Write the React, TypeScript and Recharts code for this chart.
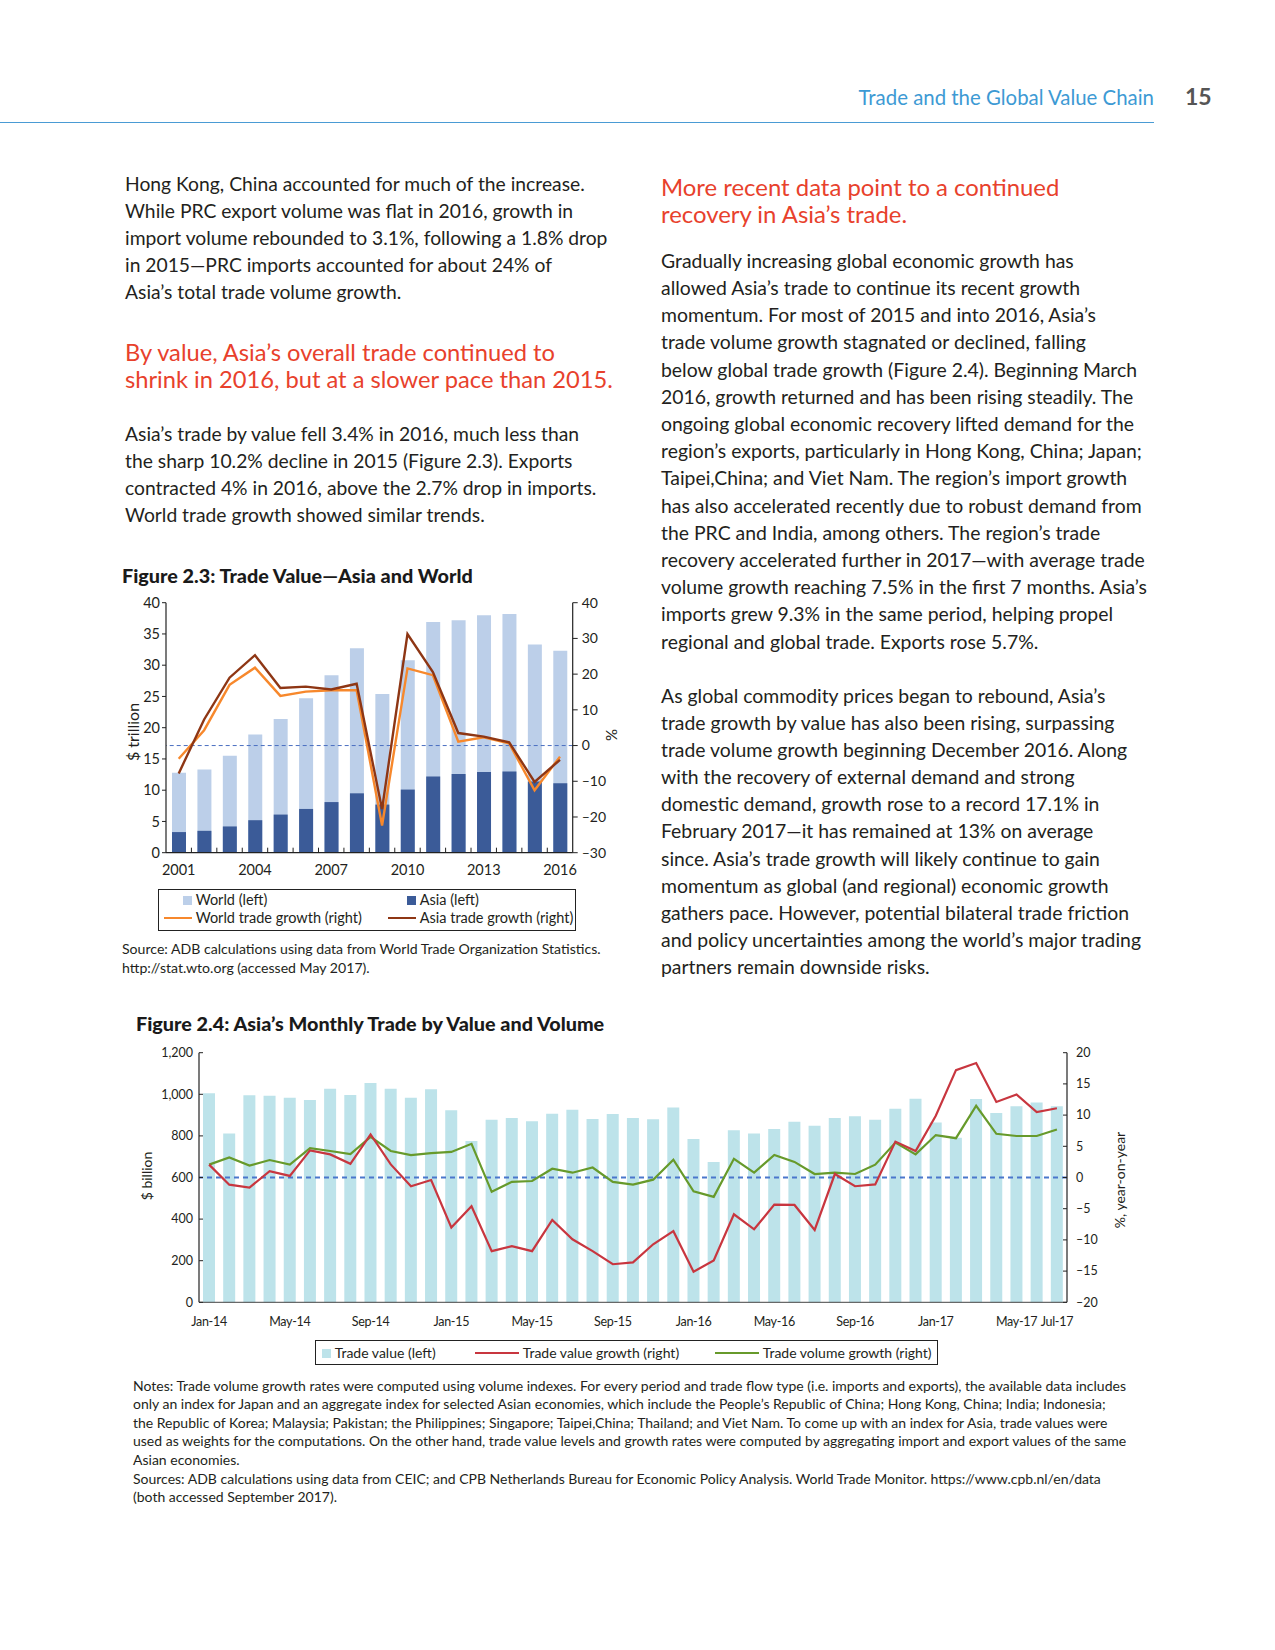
import React from 'react';
import { ComposedChart, Bar, Line, XAxis, YAxis, ReferenceLine } from 'recharts';

// ---------- Figure 2.3 data ----------
const years = ['2001', '2002', '2003', '2004', '2005', '2006', '2007', '2008', '2009', '2010', '2011', '2012', '2013', '2014', '2015', '2016'];
const yearLabels = ['2001', '2004', '2007', '2010', '2013', '2016'];
const worldValue = [12.8, 13.3, 15.5, 18.9, 21.4, 24.7, 28.4, 32.7, 25.4, 30.8, 36.9, 37.2, 38.0, 38.2, 33.3, 32.3];
const asiaValue = [3.3, 3.5, 4.2, 5.2, 6.1, 7.0, 8.1, 9.5, 7.7, 10.1, 12.2, 12.6, 12.9, 13.0, 11.4, 11.1];
const worldGrowth = [-3.7, 4.3, 17.0, 21.8, 13.9, 15.1, 15.5, 15.5, -22.4, 21.6, 19.7, 1.1, 2.3, 0.6, -12.5, -3.1];
const asiaGrowth = [-7.8, 7.3, 19.0, 25.3, 16.1, 16.5, 15.7, 17.3, -17.8, 31.2, 20.6, 3.5, 2.5, 0.9, -10.2, -4.0];
const leftTicks23 = [0, 5, 10, 15, 20, 25, 30, 35, 40];
const rightTicks23 = [-30, -20, -10, 0, 10, 20, 30, 40];

// ---------- Figure 2.4 data ----------
const months = [
  'Jan-14', 'Feb-14', 'Mar-14', 'Apr-14', 'May-14', 'Jun-14', 'Jul-14', 'Aug-14', 'Sep-14', 'Oct-14', 'Nov-14', 'Dec-14',
  'Jan-15', 'Feb-15', 'Mar-15', 'Apr-15', 'May-15', 'Jun-15', 'Jul-15', 'Aug-15', 'Sep-15', 'Oct-15', 'Nov-15', 'Dec-15',
  'Jan-16', 'Feb-16', 'Mar-16', 'Apr-16', 'May-16', 'Jun-16', 'Jul-16', 'Aug-16', 'Sep-16', 'Oct-16', 'Nov-16', 'Dec-16',
  'Jan-17', 'Feb-17', 'Mar-17', 'Apr-17', 'May-17', 'Jun-17', 'Jul-17',
];
const monthLabels = ['Jan-14', 'May-14', 'Sep-14', 'Jan-15', 'May-15', 'Sep-15', 'Jan-16', 'May-16', 'Sep-16', 'Jan-17', 'May-17', 'Jul-17'];
const tradeValue = [
  1005, 812, 995, 993, 984, 973, 1027, 997, 1054, 1027, 984, 1024,
  923, 775, 878, 886, 870, 907, 926, 881, 905, 886, 880, 937,
  785, 675, 827, 811, 833, 868, 849, 886, 894, 878, 931, 979,
  864, 791, 977, 910, 942, 960, 942,
];
const valueGrowth = [
  2.06, -1.15, -1.6, 1.0, 0.25, 4.35, 3.7, 2.2, 6.9, 2.1, -1.4, -0.4,
  -8.0, -4.6, -11.8, -11.0, -11.8, -6.8, -9.9, -11.8, -13.9, -13.6, -10.7, -8.6,
  -15.1, -13.3, -5.9, -8.3, -4.35, -4.4, -8.4, 0.56, -1.4, -1.1, 5.75, 4.25,
  9.9, 17.2, 18.35, 12.1, 13.3, 10.5, 11.1,
];
const volumeGrowth = [
  2.06, 3.2, 1.9, 2.8, 2.06, 4.7, 4.25, 3.77, 6.5, 4.25, 3.6, 3.9,
  4.1, 5.4, -2.3, -0.7, -0.56, 1.4, 0.77, 1.6, -0.7, -1.15, -0.35, 2.85,
  -2.2, -3.1, 3.0, 0.77, 3.6, 2.5, 0.56, 0.77, 0.56, 2.05, 5.6, 3.7,
  6.8, 6.3, 11.5, 7.0, 6.65, 6.65, 7.7,
];
const leftTicks24 = [0, 200, 400, 600, 800, 1000, 1200];
const rightTicks24 = [-20, -15, -10, -5, 0, 5, 10, 15, 20];

// ---------- text ----------
const leftPara1 = [
  'Hong Kong, China accounted for much of the increase.',
  'While PRC export volume was flat in 2016, growth in',
  'import volume rebounded to 3.1%, following a 1.8% drop',
  'in 2015\u2014PRC imports accounted for about 24% of',
  'Asia\u2019s total trade volume growth.',
];
const leftHeading = ['By value, Asia\u2019s overall trade continued to', 'shrink in 2016, but at a slower pace than 2015.'];
const leftPara2 = [
  'Asia\u2019s trade by value fell 3.4% in 2016, much less than',
  'the sharp 10.2% decline in 2015 (Figure 2.3). Exports',
  'contracted 4% in 2016, above the 2.7% drop in imports.',
  'World trade growth showed similar trends.',
];
const rightHeading = ['More recent data point to a continued', 'recovery in Asia\u2019s trade.'];
const rightPara1 = [
  'Gradually increasing global economic growth has',
  'allowed Asia\u2019s trade to continue its recent growth',
  'momentum. For most of 2015 and into 2016, Asia\u2019s',
  'trade volume growth stagnated or declined, falling',
  'below global trade growth (Figure 2.4). Beginning March',
  '2016, growth returned and has been rising steadily. The',
  'ongoing global economic recovery lifted demand for the',
  'region\u2019s exports, particularly in Hong Kong, China; Japan;',
  'Taipei,China; and Viet Nam. The region\u2019s import growth',
  'has also accelerated recently due to robust demand from',
  'the PRC and India, among others. The region\u2019s trade',
  'recovery accelerated further in 2017\u2014with average trade',
  'volume growth reaching 7.5% in the first 7 months. Asia\u2019s',
  'imports grew 9.3% in the same period, helping propel',
  'regional and global trade. Exports rose 5.7%.',
];
const rightPara2 = [
  'As global commodity prices began to rebound, Asia\u2019s',
  'trade growth by value has also been rising, surpassing',
  'trade volume growth beginning December 2016. Along',
  'with the recovery of external demand and strong',
  'domestic demand, growth rose to a record 17.1% in',
  'February 2017\u2014it has remained at 13% on average',
  'since. Asia\u2019s trade growth will likely continue to gain',
  'momentum as global (and regional) economic growth',
  'gathers pace. However, potential bilateral trade friction',
  'and policy uncertainties among the world\u2019s major trading',
  'partners remain downside risks.',
];
const source23 = [
  'Source: ADB calculations using data from World Trade Organization Statistics.',
  'http://stat.wto.org (accessed May 2017).',
];
const notes24 = [
  'Notes: Trade volume growth rates were computed using volume indexes. For every period and trade flow type (i.e. imports and exports), the available data includes',
  'only an index for Japan and an aggregate index for selected Asian economies, which include the People\u2019s Republic of China; Hong Kong, China; India; Indonesia;',
  'the Republic of Korea; Malaysia; Pakistan; the Philippines; Singapore; Taipei,China; Thailand; and Viet Nam. To come up with an index for Asia, trade values were',
  'used as weights for the computations. On the other hand, trade value levels and growth rates were computed by aggregating import and export values of the same',
  'Asian economies.',
  'Sources: ADB calculations using data from CEIC; and CPB Netherlands Bureau for Economic Policy Analysis. World Trade Monitor. https://www.cpb.nl/en/data',
  '(both accessed September 2017).',
];

const data23 = years.map((y, i) => ({
  year: y,
  world: worldValue[i],
  asia: asiaValue[i],
  worldGrowth: worldGrowth[i],
  asiaGrowth: asiaGrowth[i],
}));
const data24 = months.map((m, i) => ({
  month: m,
  value: tradeValue[i],
  valueGrowth: valueGrowth[i],
  volumeGrowth: volumeGrowth[i],
}));

const FONT = 'Lato, "Open Sans", sans-serif';
const TEXT = '#231f20';
const RED = '#e8412c';

const fmtNeg = (v: number) => (v < 0 ? '\u2013' + Math.abs(v) : String(v));
const fmtThousands = (v: number) => v.toLocaleString('en-US');

type LinesProps = { x: number; top: number; lh: number; size: number; lines: string[]; color?: string; weight?: number };
const Lines = ({ x, top, lh, size, lines, color = TEXT, weight = 400 }: LinesProps) => (
  <div style={{ position: 'absolute', left: x, top, fontSize: size, lineHeight: lh + 'px', color, fontWeight: weight, whiteSpace: 'nowrap' }}>
    {lines.map((l, i) => (
      <div key={i}>{l}</div>
    ))}
  </div>
);

// ----- tick renderers -----
const BAND23 = 406.7 / years.length;
const YearTick = (props: any) => {
  const { x, y, payload, index } = props;
  const show = yearLabels.includes(payload.value);
  return (
    <g>
      {index < years.length - 1 && (
        <line x1={x + BAND23 / 2} x2={x + BAND23 / 2} y1={y} y2={y - 5} stroke="#222" strokeWidth={1} />
      )}
      {show && (
        <text x={x} y={y + 17} dy="0.35em" textAnchor="middle" fontSize={14.5} fill={TEXT} fontFamily={FONT}>
          {payload.value}
        </text>
      )}
    </g>
  );
};
const Left23Tick = (props: any) => {
  const { x, y, payload } = props;
  return (
    <g>
      <line x1={x - 4} x2={x} y1={y} y2={y} stroke="#222" />
      <text x={x - 6} y={y} dy="0.35em" textAnchor="end" fontSize={14.5} fill={TEXT} fontFamily={FONT}>
        {payload.value}
      </text>
    </g>
  );
};
const Right23Tick = (props: any) => {
  const { x, y, payload } = props;
  return (
    <g>
      <line x1={x} x2={x + 5} y1={y} y2={y} stroke="#222" />
      <text x={x + 9} y={y} dy="0.35em" textAnchor="start" fontSize={14} fill={TEXT} fontFamily={FONT}>
        {fmtNeg(payload.value)}
      </text>
    </g>
  );
};
const MonthTick = (props: any) => {
  const { x, y, payload } = props;
  if (!monthLabels.includes(payload.value)) return <g />;
  return (
    <text x={x} y={y + 19} dy="0.35em" textAnchor="middle" fontSize={12.5} letterSpacing={-0.3} fill={TEXT} fontFamily={FONT}>
      {payload.value}
    </text>
  );
};
const Left24Tick = (props: any) => {
  const { x, y, payload } = props;
  return (
    <g>
      <line x1={x} x2={x + 4} y1={y} y2={y} stroke="#222" />
      <text x={x - 6} y={y} dy="0.35em" textAnchor="end" fontSize={12.5} fill={TEXT} fontFamily={FONT}>
        {fmtThousands(payload.value)}
      </text>
    </g>
  );
};
const Right24Tick = (props: any) => {
  const { x, y, payload } = props;
  return (
    <g>
      <line x1={x - 4} x2={x} y1={y} y2={y} stroke="#222" />
      <text x={x + 9} y={y} dy="0.35em" textAnchor="start" fontSize={12.5} fill={TEXT} fontFamily={FONT}>
        {fmtNeg(payload.value)}
      </text>
    </g>
  );
};

const C23 = { world: '#bccfe9', asia: '#3b5b98', worldG: '#f7882c', asiaG: '#8e3614' };
const C24 = { bar: '#bde3ea', value: '#c8363f', volume: '#679a2b', dash: '#4a77cc' };

const Swatch = ({ color }: { color: string }) => (
  <span style={{ display: 'inline-block', width: 9, height: 9, background: color, marginRight: 4, verticalAlign: 'middle', position: 'relative', top: -1 }} />
);
const LineSw = ({ color, w }: { color: string; w: number }) => (
  <span style={{ display: 'inline-block', width: w, height: 2, background: color, marginRight: 4, verticalAlign: 'middle', position: 'relative', top: -1 }} />
);

export default function App() {
  return (
    <div style={{ position: 'absolute', left: 0, top: 0, width: 1275, height: 1650, background: '#fff', fontFamily: FONT, color: TEXT }}>
      {/* header */}
      <div style={{ position: 'absolute', left: 700, width: 454, top: 84, textAlign: 'right', fontSize: 20.4, color: '#3d9ad4', whiteSpace: 'nowrap', lineHeight: '26px' }}>
        Trade and the Global Value Chain
      </div>
      <div style={{ position: 'absolute', left: 1185, top: 82, fontSize: 23, fontWeight: 700, color: '#555', lineHeight: '28px' }}>15</div>
      <div style={{ position: 'absolute', left: 0, top: 122, width: 1154, height: 1, background: '#4a9bd4' }} />

      {/* left column */}
      <Lines x={125} top={171} lh={26.9} size={19.3} lines={leftPara1} />
      <Lines x={125} top={338.5} lh={27.4} size={23.7} lines={leftHeading} color={RED} />
      <Lines x={125} top={419.7} lh={27} size={19.3} lines={leftPara2} />

      {/* right column */}
      <Lines x={661} top={172.8} lh={27.4} size={23.9} lines={rightHeading} color={RED} />
      <Lines x={661} top={246.7} lh={27.2} size={19.4} lines={rightPara1} />
      <Lines x={661} top={682} lh={27.1} size={19.4} lines={rightPara2} />

      {/* Figure 2.3 */}
      <div style={{ position: 'absolute', left: 122, top: 563, fontSize: 19.8, fontWeight: 900, lineHeight: '24px', whiteSpace: 'nowrap', color: '#1a1a1a' }}>
        Figure 2.3: Trade Value{'\u2014'}Asia and World
      </div>
      <div style={{ position: 'absolute', left: 100, top: 590 }}>
        <ComposedChart width={530} height={290} data={data23} margin={{ top: 12.7, right: 17.3, bottom: 2.3, left: 20 }} barGap={-14}>
          <XAxis dataKey="year" interval={0} height={25} tickSize={0} tickMargin={0} tick={<YearTick />} stroke="#222" axisLine={{ stroke: '#222', strokeWidth: 1.2 }} tickLine={false} />
          <YAxis yAxisId="left" domain={[0, 40]} ticks={leftTicks23} width={46} tickSize={0} tickMargin={0} tick={<Left23Tick />} tickLine={false} axisLine={{ stroke: '#222', strokeWidth: 1.2 }} />
          <YAxis yAxisId="right" orientation="right" domain={[-30, 40]} ticks={rightTicks23} width={40} tickSize={0} tickMargin={0} tick={<Right23Tick />} tickLine={false} axisLine={{ stroke: '#222', strokeWidth: 1.2 }} />
          <Bar yAxisId="left" dataKey="world" fill={C23.world} barSize={14} isAnimationActive={false} />
          <Bar yAxisId="left" dataKey="asia" fill={C23.asia} barSize={14} isAnimationActive={false} />
          <ReferenceLine yAxisId="right" y={0} stroke="#4a6fc0" strokeDasharray="4 3" strokeWidth={1} />
          <Line yAxisId="right" dataKey="worldGrowth" stroke={C23.worldG} strokeWidth={2.4} dot={false} isAnimationActive={false} />
          <Line yAxisId="right" dataKey="asiaGrowth" stroke={C23.asiaG} strokeWidth={2.4} dot={false} isAnimationActive={false} />
        </ComposedChart>
      </div>
      <div style={{ position: 'absolute', left: 131.7, top: 731.7, transform: 'translate(-50%, -50%) rotate(-90deg)', fontSize: 16, whiteSpace: 'nowrap' }}>$ trillion</div>
      <div style={{ position: 'absolute', left: 611, top: 735, transform: 'translate(-50%, -50%) rotate(-90deg)', fontSize: 15, whiteSpace: 'nowrap' }}>%</div>
      <div style={{ position: 'absolute', left: 157.7, top: 889, width: 418, height: 42, border: '1px solid #222', boxSizing: 'border-box', fontSize: 14.5, lineHeight: '18px' }}>
        <div style={{ position: 'absolute', left: 24, top: 1, whiteSpace: 'nowrap' }}><Swatch color={C23.world} />World (left)</div>
        <div style={{ position: 'absolute', left: 248, top: 1, whiteSpace: 'nowrap' }}><Swatch color={C23.asia} />Asia (left)</div>
        <div style={{ position: 'absolute', left: 5, top: 19, whiteSpace: 'nowrap' }}><LineSw color={C23.worldG} w={28} />World trade growth (right)</div>
        <div style={{ position: 'absolute', left: 229, top: 19, whiteSpace: 'nowrap' }}><LineSw color={C23.asiaG} w={28} />Asia trade growth (right)</div>
      </div>
      <Lines x={122} top={939} lh={19} size={14.1} lines={source23} />

      {/* Figure 2.4 */}
      <div style={{ position: 'absolute', left: 136, top: 1011, fontSize: 19.8, fontWeight: 900, lineHeight: '24px', whiteSpace: 'nowrap', color: '#1a1a1a' }}>
        Figure 2.4: Asia{'\u2019'}s Monthly Trade by Value and Volume
      </div>
      <div style={{ position: 'absolute', left: 120, top: 1040 }}>
        <ComposedChart width={1000} height={300} data={data24} margin={{ top: 12.7, right: 18, bottom: 7.7, left: 29 }}>
          <XAxis dataKey="month" interval={0} height={30} tickSize={0} tickMargin={0} tick={<MonthTick />} tickLine={false} axisLine={{ stroke: '#444', strokeWidth: 1 }} />
          <YAxis yAxisId="left" domain={[0, 1200]} ticks={leftTicks24} width={50} tickSize={0} tickMargin={0} tick={<Left24Tick />} tickLine={false} axisLine={{ stroke: '#222', strokeWidth: 1.2 }} />
          <YAxis yAxisId="right" orientation="right" domain={[-20, 20]} ticks={rightTicks24} width={35} tickSize={0} tickMargin={0} tick={<Right24Tick />} tickLine={false} axisLine={{ stroke: '#222', strokeWidth: 1.2 }} />
          <Bar yAxisId="left" dataKey="value" fill={C24.bar} barSize={12} isAnimationActive={false} />
          <ReferenceLine yAxisId="right" y={0} stroke={C24.dash} strokeDasharray="5 4" strokeWidth={2} />
          <Line yAxisId="right" dataKey="volumeGrowth" stroke={C24.volume} strokeWidth={2.2} dot={false} isAnimationActive={false} />
          <Line yAxisId="right" dataKey="valueGrowth" stroke={C24.value} strokeWidth={2.2} dot={false} isAnimationActive={false} />
        </ComposedChart>
      </div>
      <div style={{ position: 'absolute', left: 146, top: 1176, transform: 'translate(-50%, -50%) rotate(-90deg)', fontSize: 14, whiteSpace: 'nowrap' }}>$ billion</div>
      <div style={{ position: 'absolute', left: 1119, top: 1180, transform: 'translate(-50%, -50%) rotate(-90deg)', fontSize: 14, whiteSpace: 'nowrap' }}>%, year-on-year</div>
      <div style={{ position: 'absolute', left: 314.7, top: 1340, width: 623, height: 25, border: '1px solid #222', boxSizing: 'border-box', fontSize: 14, lineHeight: '23px' }}>
        <div style={{ position: 'absolute', left: 6, top: 0, whiteSpace: 'nowrap' }}><Swatch color={C24.bar} />Trade value (left)</div>
        <div style={{ position: 'absolute', left: 159, top: 0, whiteSpace: 'nowrap' }}><LineSw color={C24.value} w={44} />Trade value growth (right)</div>
        <div style={{ position: 'absolute', left: 399, top: 0, whiteSpace: 'nowrap' }}><LineSw color={C24.volume} w={44} />Trade volume growth (right)</div>
      </div>
      <Lines x={133} top={1376.7} lh={18.6} size={14} lines={notes24} />
    </div>
  );
}
